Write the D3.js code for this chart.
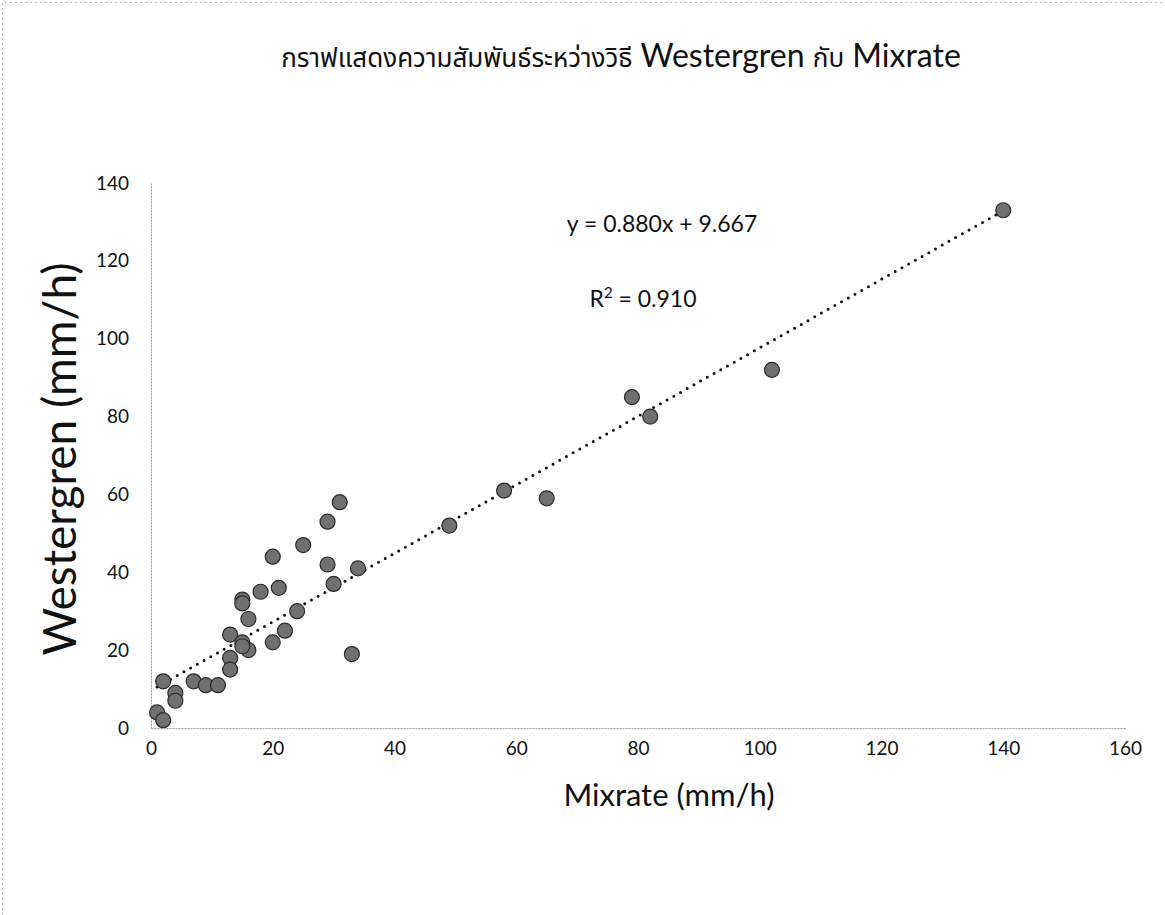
<!DOCTYPE html>
<html>
<head>
<meta charset="utf-8">
<script src="https://cdn.jsdelivr.net/npm/d3@7"></script>
<style>
  body { margin: 0; background: #fff; }
  svg { display: block; }
  text { font-family: Lato, "Open Sans", "Noto Sans", sans-serif; fill: #111; }
  .thai { font-family: "Noto Sans Thai", "Noto Sans Thai UI", Loma, Garuda, "Tlwg Typo", "DejaVu Sans", sans-serif; }
</style>
</head>
<body>
<div id="chart"></div>
<script>
// --- data ---------------------------------------
var mixrate    = [140, 102, 79, 82, 58, 65, 49, 31, 29, 25, 20, 29, 34, 30, 21, 18, 15, 15, 16, 24, 22, 20, 33, 13, 15, 16, 15, 13, 13, 2, 7, 9, 11, 4, 4, 1, 2]
var westergren = [133,  92, 85, 80, 61, 59, 52, 58, 53, 47, 44, 42, 41, 37, 36, 35, 33, 32, 28, 30, 25, 22, 19, 24, 22, 20, 21, 18, 15, 12, 12, 11, 11, 9,  7, 4, 2]

var trendCoef = [0.880, 9.667]   // slope, intercept
var xTicks = [0, 20, 40, 60, 80, 100, 120, 140, 160]
var yTicks = [0, 20, 40, 60, 80, 100, 120, 140]

var titleThai = "กราฟแสดงความสัมพันธ์ระหว่างวิธี"
var titleLatin1 = " Westergren "
var titleThai2 = "กับ"
var titleLatin2 = " Mixrate"
var eqText = "y = 0.880x + 9.667"
var r2Value = "0.910"

// --- layout ---------------------------------------
var width = 1165,
    height = 915,
    margin = {top: 183, right: 40, bottom: 187, left: 151}

var svg = d3.select("#chart").append("svg")
  .attr("width", width)
  .attr("height", height)

// scanned page frame (left + top)
svg.append("path")
  .attr("d", "M2.5," + height + "V2.5H" + width)
  .attr("fill", "none")
  .attr("stroke", "#bbb")
  .attr("stroke-width", 1)
  .attr("stroke-dasharray", "2,3")

var x = d3.scaleLinear().domain([0, 160]).range([margin.left, width - margin.right])
var y = d3.scaleLinear().domain([0, 140]).range([height - margin.bottom, margin.top])

// --- axes ---------------------------------------
var xAxis = svg.append("g")
  .attr("transform", "translate(0," + y(0) + ")")
  .call(d3.axisBottom(x).tickValues(xTicks).tickSize(0).tickPadding(14))
xAxis.select(".domain").attr("stroke", "#9a9a9a").attr("stroke-dasharray", "2,1")
xAxis.selectAll("text").attr("font-size", 19).attr("fill", "#111")
  .attr("font-family", "Lato, 'Open Sans', sans-serif")

var yAxis = svg.append("g")
  .attr("transform", "translate(" + x(0) + ",0)")
  .call(d3.axisLeft(y).tickValues(yTicks).tickSize(0).tickPadding(22))
yAxis.select(".domain").attr("stroke", "#9a9a9a").attr("stroke-dasharray", "2,1")
yAxis.selectAll("text").attr("font-size", 19).attr("fill", "#111")
  .attr("font-family", "Lato, 'Open Sans', sans-serif")

// --- trendline ---------------------------------------
var xMin = d3.min(mixrate), xMax = d3.max(mixrate)
var line = d3.line().x((d) => x(d)).y((d) => y(trendCoef[0] * d + trendCoef[1]))
svg.append("path")
  .datum([xMin, xMax])
  .attr("d", line)
  .attr("fill", "none")
  .attr("stroke", "#111")
  .attr("stroke-width", 3)
  .attr("stroke-linecap", "round")
  .attr("stroke-dasharray", "0,7.7")

// --- points ---------------------------------------
svg.append("g")
  .selectAll("circle")
  .data(d3.zip(mixrate, westergren))
  .enter().append("circle")
    .attr("cx", (d) => x(d[0]))
    .attr("cy", (d) => y(d[1]))
    .attr("r", 7.5)
    .attr("fill", "#707070")
    .attr("stroke", "#2a2a2a")
    .attr("stroke-width", 1.2)

// --- texts ---------------------------------------
var title = svg.append("text")
  .attr("x", 621)
  .attr("y", 67)
  .attr("text-anchor", "middle")
title.append("tspan").attr("class", "thai").attr("font-size", 26).text(titleThai)
title.append("tspan").attr("font-size", 32).text(titleLatin1)
title.append("tspan").attr("class", "thai").attr("font-size", 26).text(titleThai2)
title.append("tspan").attr("font-size", 32).text(titleLatin2)

svg.append("text")
  .attr("x", 662)
  .attr("y", 232)
  .attr("text-anchor", "middle")
  .attr("font-size", 23)
  .text(eqText)

var r2 = svg.append("text")
  .attr("x", 643)
  .attr("y", 307)
  .attr("text-anchor", "middle")
  .attr("font-size", 23)
r2.append("tspan").text("R")
r2.append("tspan").attr("font-size", 15).attr("dy", -9).text("2")
r2.append("tspan").attr("dy", 9).text("\u00a0=\u00a0" + r2Value)

svg.append("text")
  .attr("x", 669)
  .attr("y", 806)
  .attr("text-anchor", "middle")
  .attr("font-size", 31)
  .text("Mixrate (mm/h)")

svg.append("text")
  .attr("transform", "translate(76," + 459 + ") rotate(-90)")
  .attr("text-anchor", "middle")
  .attr("font-size", 46)
  .text("Westergren (mm/h)")
</script>
</body>
</html>
